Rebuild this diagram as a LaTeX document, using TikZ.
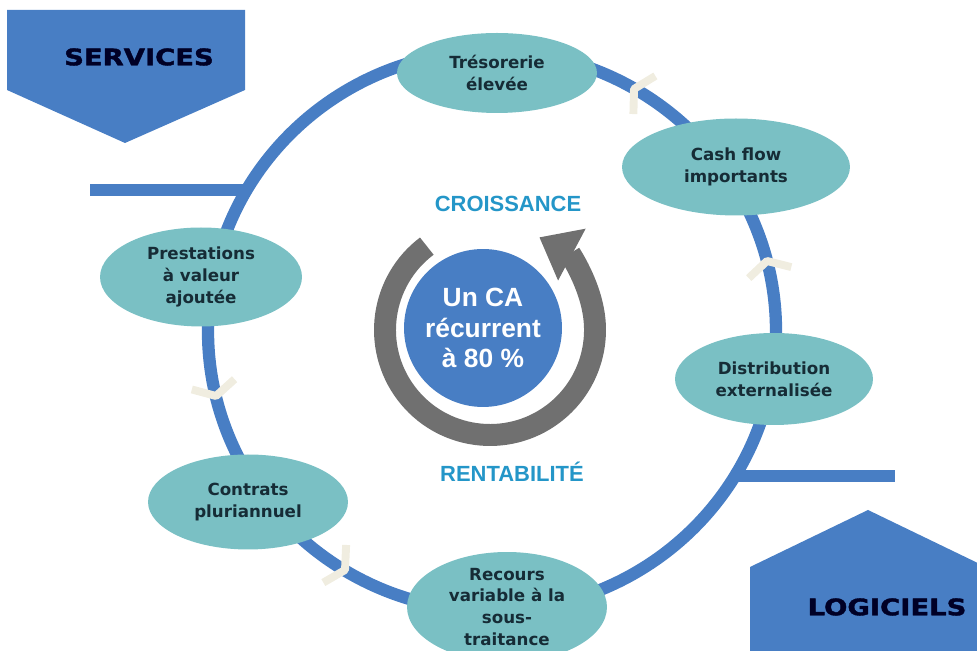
\documentclass[tikz,border=0pt]{standalone}
\definecolor{ringblue}{RGB}{72,126,196}
\definecolor{stageteal}{RGB}{122,192,196}
\definecolor{darkink}{RGB}{22,44,54}
\definecolor{cyclegray}{RGB}{112,112,112}
\definecolor{titleblue}{RGB}{36,150,200}
\definecolor{chevcream}{RGB}{240,237,224}
\usepackage{fontspec}
\setmainfont{DejaVu Sans}
\newfontfamily\headfont{Liberation Sans}
\newfontfamily\blackfont{DejaVu Sans}[BoldFeatures={FakeBold=1.6}]
\usepackage{graphicx}
\usepackage{tikz}
\usetikzlibrary{shapes.geometric, arrows.meta}
\tikzset{
  stage/.style={ellipse, fill=stageteal, text=darkink, inner sep=0pt,
    font=\fontsize{9.5}{12.5}\selectfont\bfseries, align=center},
  ringline/.style={line width=7pt, color=ringblue},
  chevron/.style={line width=4.5pt, color=chevcream, line join=round},
  banner/.style={fill=ringblue},
}

\begin{document}
\begin{tikzpicture}[x=0.02cm, y=0.02cm,
  bannertext/.style={font=\blackfont\fontsize{13}{15}\selectfont\bfseries, text=black!85!blue},
  keyword/.style={font=\headfont\fontsize{12.5}{15}\selectfont\bfseries, text=titleblue},
  cycleline/.style={line width=12.5pt, color=cyclegray,
    -{Triangle[length=21pt, width=32pt]}},
]
\useasboundingbox (0,0) rectangle (977,651);
\clip (0,0) rectangle (977,651);

\coordinate (ringc) at (492,320);
\draw[ringline] (ringc) ellipse [x radius=284, y radius=280];

\coordinate (svcjoin) at (250,461);
\coordinate (svcend)  at (90,461);
\draw[ringline] (svcend) -- (svcjoin);
\coordinate (logjoin) at (731,175);
\coordinate (logend)  at (895,175);
\draw[ringline] (logjoin) -- (logend);

\draw[chevron, shift={(634,562)}, rotate=60]    (-22,-12) -- (0,0) -- (22,-12);
\draw[chevron, shift={(767,390)}, rotate=14.5]  (-22,-12) -- (0,0) -- (22,-12);
\draw[chevron, shift={(216,255)}, rotate=193.5] (-22,-12) -- (0,0) -- (22,-12);
\draw[chevron, shift={(345,81)},  rotate=238.8] (-22,-12) -- (0,0) -- (22,-12);

\node[stage, minimum width=4cm,    minimum height=1.6cm]  (treso)   at (497,578) {Trésorerie\\élevée};
\node[stage, minimum width=4.56cm, minimum height=1.94cm] (cash)    at (736,484) {Cash flow\\importants};
\node[stage, minimum width=3.96cm, minimum height=1.84cm] (distrib) at (774,272) {Distribution\\externalisée};
\node[stage, minimum width=4cm,    minimum height=2.2cm, inner ysep=-2pt] (recours) at (507,44)
  {Recours\\variable à la\\sous-\\traitance};
\node[stage, minimum width=4cm,    minimum height=1.9cm]  (contrats) at (248,149) {Contrats\\pluriannuel};
\node[stage, minimum width=4.04cm, minimum height=1.98cm] (presta)  at (201,374) {Prestations\\à valeur\\ajoutée};

\fill[banner] (7,641) -- (245,641) -- (245,561) -- (125,508) -- (7,561) -- cycle;
\node[bannertext] (services) at (139,594) {\scalebox{1.2}[1]{SERVICES}};
\fill[banner] (750,-10) -- (750,84) -- (868,141) -- (986,84) -- (986,-10) -- cycle;
\node[bannertext] (logiciels) at (887,44) {\scalebox{1.2}[1]{LOGICIELS}};

\coordinate (cyc) at (490,321);
\draw[cycleline] ([shift={(127:105)}]cyc) arc[start angle=127, end angle=422, radius=105];
\node[circle, fill=ringblue, minimum size=3.16cm, inner sep=0pt, text=white, align=center,
  font=\headfont\fontsize{15}{17.5}\selectfont\bfseries] (ca) at (483,323)
  {Un CA\\récurrent\\à 80 \%};

\node[keyword] (croiss) at (508,447) {CROISSANCE};
\node[keyword] (renta)  at (512,179) {RENTABILITÉ};

\end{tikzpicture}
\end{document}
